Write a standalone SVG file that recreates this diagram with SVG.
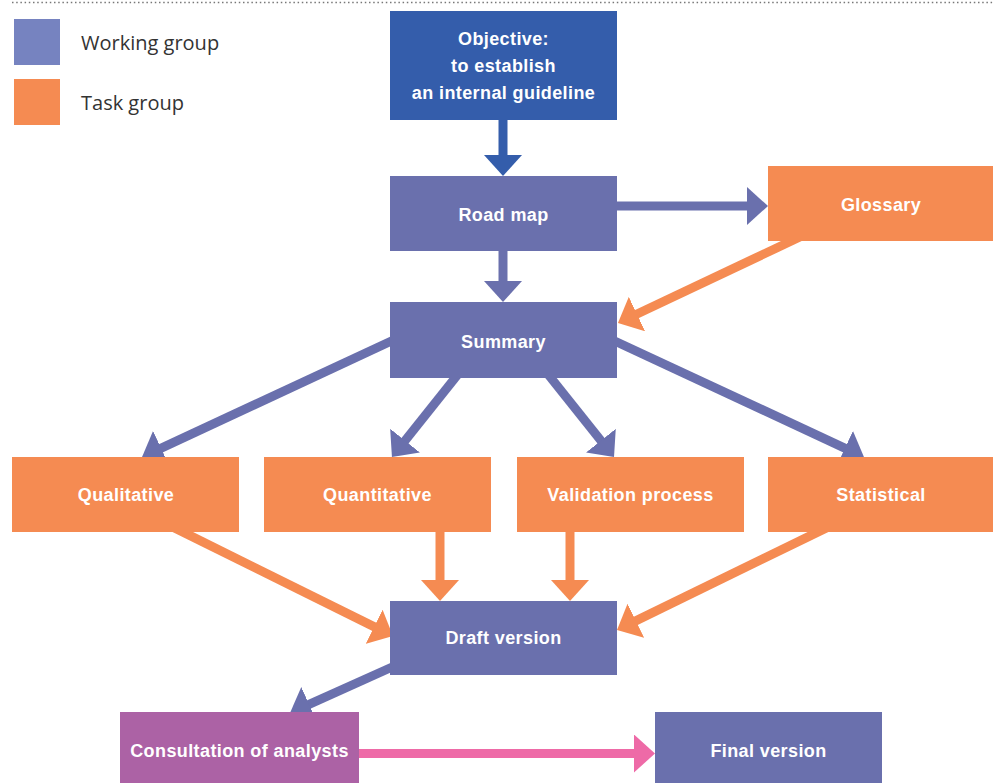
<svg xmlns="http://www.w3.org/2000/svg" width="993" height="783" viewBox="0 0 993 783">
<style>
.wg{fill:#6A70AD}
.tg{fill:#F58B52}
.ob{fill:#345DAB}
.co{fill:#AC62A5}
.lbl{font-family:"Liberation Sans",Arial,sans-serif;font-weight:bold;font-size:18px;letter-spacing:0.4px;fill:#FFFFFF;text-anchor:middle}
.leg{font-family:"Open Sans","DejaVu Sans",sans-serif;font-size:20px;fill:#333333}
.c{fill:none;stroke-width:9;stroke-linecap:butt}
.cb{stroke:#6A70AD}
.co2{stroke:#F58B52}
.cd{stroke:#345DAB}
.cp{stroke:#EE6AA7}
</style>
<defs>
<marker id="mb" viewBox="0 0 21 38" refX="11" refY="19" markerWidth="21" markerHeight="38" markerUnits="userSpaceOnUse" orient="auto"><path d="M0,0 L21,19 L0,38 Z" fill="#6A70AD"/></marker>
<marker id="mo" viewBox="0 0 21 38" refX="11" refY="19" markerWidth="21" markerHeight="38" markerUnits="userSpaceOnUse" orient="auto"><path d="M0,0 L21,19 L0,38 Z" fill="#F58B52"/></marker>
<marker id="md" viewBox="0 0 21 38" refX="11" refY="19" markerWidth="21" markerHeight="38" markerUnits="userSpaceOnUse" orient="auto"><path d="M0,0 L21,19 L0,38 Z" fill="#345DAB"/></marker>
<marker id="mp" viewBox="0 0 21 38" refX="11" refY="19" markerWidth="21" markerHeight="38" markerUnits="userSpaceOnUse" orient="auto"><path d="M0,0 L21,19 L0,38 Z" fill="#EE6AA7"/></marker>
</defs>
<rect x="0" y="0" width="993" height="783" fill="#FFFFFF"/>
<line x1="12" y1="2.5" x2="993" y2="2.5" stroke="#777777" stroke-width="1.3" stroke-dasharray="1.5 2.7"/>
<g id="legend">
<rect x="14" y="19" width="46" height="46" fill="#7683C0"/>
<text class="leg" x="81" y="50">Working group</text>
<rect x="14" y="79" width="46" height="46" fill="#F58B52"/>
<text class="leg" x="81" y="110">Task group</text>
</g>
<g id="connectors">
<line class="c cd" x1="503" y1="115" x2="503" y2="166" marker-end="url(#md)"/>
<line class="c cb" x1="503" y1="245" x2="503" y2="292" marker-end="url(#mb)"/>
<line class="c cb" x1="610" y1="206" x2="758" y2="206" marker-end="url(#mb)"/>
<line class="c co2" x1="804" y1="235" x2="627" y2="318.7" marker-end="url(#mo)"/>
<line class="c cb" x1="400" y1="337" x2="151.1" y2="452.8" marker-end="url(#mb)"/>
<line class="c cb" x1="461.2" y1="370.2" x2="398.2" y2="449.2" marker-end="url(#mb)"/>
<line class="c cb" x1="544.8" y1="370.2" x2="607.8" y2="449.2" marker-end="url(#mb)"/>
<line class="c cb" x1="606" y1="337" x2="854.9" y2="452.8" marker-end="url(#mb)"/>
<line class="c co2" x1="174" y1="527.6" x2="384" y2="631.6" marker-end="url(#mo)"/>
<line class="c co2" x1="440" y1="528" x2="440" y2="591" marker-end="url(#mo)"/>
<line class="c co2" x1="570" y1="528" x2="570" y2="591" marker-end="url(#mo)"/>
<line class="c co2" x1="827" y1="527.6" x2="626" y2="625.6" marker-end="url(#mo)"/>
<line class="c cb" x1="400" y1="663.5" x2="299.1" y2="708.9" marker-end="url(#mb)"/>
<line class="c cp" x1="355" y1="753.5" x2="645" y2="753.5" marker-end="url(#mp)"/>
</g>
<g id="objective">
<rect class="ob" x="390" y="11" width="227" height="109"/>
<text class="lbl" x="503.5" y="45">Objective:</text>
<text class="lbl" x="503.5" y="72">to establish</text>
<text class="lbl" x="503.5" y="99">an internal guideline</text>
</g>
<g id="roadmap">
<rect class="wg" x="390" y="176" width="227" height="75"/>
<text class="lbl" x="503.5" y="221">Road map</text>
</g>
<g id="glossary">
<rect class="tg" x="768" y="166" width="227" height="75"/>
<text class="lbl" x="881" y="211">Glossary</text>
</g>
<g id="summary">
<rect class="wg" x="390" y="302" width="227" height="76"/>
<text class="lbl" x="503.5" y="348">Summary</text>
</g>
<g id="qualitative">
<rect class="tg" x="12" y="457" width="227" height="75"/>
<text class="lbl" x="126" y="501">Qualitative</text>
</g>
<g id="quantitative">
<rect class="tg" x="264" y="457" width="227" height="75"/>
<text class="lbl" x="377.5" y="501">Quantitative</text>
</g>
<g id="validation">
<rect class="tg" x="517" y="457" width="227" height="75"/>
<text class="lbl" x="630.5" y="501">Validation process</text>
</g>
<g id="statistical">
<rect class="tg" x="768" y="457" width="227" height="75"/>
<text class="lbl" x="881" y="501">Statistical</text>
</g>
<g id="draft">
<rect class="wg" x="390" y="601" width="227" height="74"/>
<text class="lbl" x="503.5" y="644">Draft version</text>
</g>
<g id="consultation">
<rect class="co" x="120" y="712" width="239" height="75"/>
<text class="lbl" x="239.5" y="757">Consultation of analysts</text>
</g>
<g id="final">
<rect class="wg" x="655" y="712" width="227" height="75"/>
<text class="lbl" x="768.5" y="757">Final version</text>
</g>
</svg>
